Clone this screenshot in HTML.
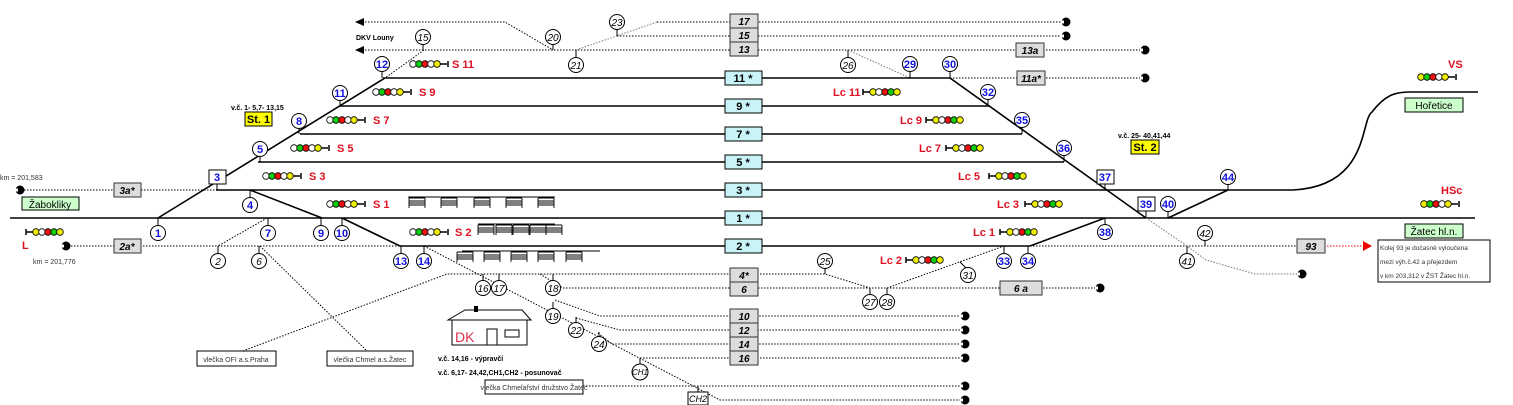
<!DOCTYPE html>
<html><head><meta charset="utf-8"><style>
html,body{margin:0;padding:0;background:#fff;width:1513px;height:405px;overflow:hidden}
svg{display:block;font-family:"Liberation Sans",sans-serif}
.t{stroke:#000;stroke-width:1.6;fill:none}
.d{stroke:#000;stroke-width:1;stroke-dasharray:1.5 1.5;fill:none}
.g{stroke:#777;stroke-width:1;stroke-dasharray:1.5 1.5;fill:none}
.cb{fill:#fff;stroke:#000;stroke-width:1}
.nb{fill:#1010e0;font-size:11px;font-weight:bold;text-anchor:middle}
.nk{fill:#000;font-size:10px;font-style:italic;text-anchor:middle}
.red{fill:#e01020;font-size:11px;font-weight:bold}
.tb{font-size:11px;font-weight:bold;text-anchor:middle}
.gb{fill:#ddd;stroke:#333;stroke-width:1}
.cy{fill:#c8f4f8;stroke:#000;stroke-width:1}
</style></head><body>
<svg width="1513" height="405" viewBox="0 0 1513 405" xmlns="http://www.w3.org/2000/svg">
<defs>
<g id="ec"><circle cx="0" cy="0" r="4.5" fill="#000"/><rect x="-5" y="-1.5" width="3" height="3" fill="#fff"/></g>
<g id="sh"><path d="M0 0h16M0 3h16M0 5h16M0 7h16M0 0v10M16 0v10" stroke="#000" stroke-width="0.9" fill="none"/></g>
</defs>

<!-- dotted tracks top -->
<path class="d" d="M362 22H505L553 50M657 22H1062M617 36H1062M362 50H1140M424 50L385 78M950 78H1140"/>
<path class="g" d="M657 22L576 50M848 50L910 78"/>
<polygon points="355,22 364,18 364,26"/><polygon points="355,50 364,46 364,54"/>
<use href="#ec" x="1066" y="22"/><use href="#ec" x="1066" y="36"/><use href="#ec" x="1145" y="50"/><use href="#ec" x="1145" y="78"/>

<!-- solid tracks -->
<path class="t" d="M383 78H950M340 106H990M300 134H1022M258 162H1064M216 190H1293M10 218H1475M400 246H1030"/>
<path class="t" d="M158 218L385 78M250 190L322 218M342 218L400 246M950 78L1146 218M1168 218L1228 190M1105 218L1030 246"/>
<path class="t" d="M1293 190C1370 186 1360 120 1372 112C1385 95 1395 92 1410 92H1478"/>
<!-- dotted lower -->
<path class="d" d="M15 190H216M65 246H400M1030 246H1297M1326 246"/>
<path class="g" d="M1146 218L1187 246L1206 260L1255 274H1298"/>
<path class="d" d="M267 218L218 246M260 246L368 352M240 352L447 274H730M760 274H825L870 288M563 288H1098M540 274L563 288M887 288L1004 246"/>
<path d="M1327 246H1365" stroke="#e00" stroke-width="1" stroke-dasharray="1.5 1.5"/>
<polygon points="1372,246 1363,241 1363,251" fill="#e00"/>
<use href="#ec" x="20" y="190"/><use href="#ec" x="66" y="246"/><use href="#ec" x="1302" y="274"/><use href="#ec" x="1100" y="288"/>
<path class="d" d="M424 246L720 400H965M555 300L600 316H962M576 318L620 330H962M598 333L612 344H962M640 358H962M583 386H962"/>
<use href="#ec" x="965" y="316"/><use href="#ec" x="965" y="330"/><use href="#ec" x="965" y="344"/><use href="#ec" x="965" y="358"/><use href="#ec" x="965" y="386"/><use href="#ec" x="965" y="400"/>

<!-- platforms -->
<path d="M408 197H555M478 224H555M462 251H600" stroke="#000" stroke-width="1"/>
<use href="#sh" x="409" y="198"/><use href="#sh" x="441" y="198"/><use href="#sh" x="474" y="198"/><use href="#sh" x="506" y="198"/><use href="#sh" x="538" y="198"/>
<use href="#sh" x="478" y="225"/><use href="#sh" x="496" y="225"/><use href="#sh" x="513" y="225"/><use href="#sh" x="530" y="225"/><use href="#sh" x="546" y="225"/>
<use href="#sh" x="457" y="252"/><use href="#sh" x="484" y="252"/><use href="#sh" x="511" y="252"/><use href="#sh" x="538" y="252"/><use href="#sh" x="566" y="252"/>

<!-- center boxes -->
<g class="gb"><rect x="730" y="14" width="28" height="14"/><rect x="730" y="28" width="28" height="14"/><rect x="730" y="42" width="28" height="14"/>
<rect x="730" y="268" width="28" height="14"/><rect x="730" y="282" width="28" height="14"/>
<rect x="730" y="309" width="28" height="14"/><rect x="730" y="323" width="28" height="14"/><rect x="730" y="337" width="28" height="14"/><rect x="730" y="351" width="28" height="14"/>
<rect x="1016" y="43" width="28" height="14"/><rect x="1017" y="71" width="28" height="14"/><rect x="114" y="183" width="27" height="14"/><rect x="114" y="239" width="27" height="14"/><rect x="1000" y="281" width="42" height="14"/><rect x="1297" y="239" width="28" height="14"/></g>
<g font-size="10" font-weight="bold" font-style="italic" text-anchor="middle">
<text x="744" y="25">17</text><text x="744" y="39">15</text><text x="744" y="53">13</text>
<text x="744" y="279">4*</text><text x="744" y="293">6</text>
<text x="744" y="320">10</text><text x="744" y="334">12</text><text x="744" y="348">14</text><text x="744" y="362">16</text>
<text x="1030" y="54">13a</text><text x="1031" y="82">11a*</text><text x="127" y="194">3a*</text><text x="127" y="250">2a*</text><text x="1021" y="292">6 a</text><text x="1311" y="250">93</text></g>
<g class="cy"><rect x="725" y="71" width="37" height="14"/><rect x="725" y="99" width="37" height="14"/><rect x="725" y="127" width="37" height="14"/><rect x="725" y="155" width="37" height="14"/><rect x="725" y="183" width="37" height="14"/><rect x="725" y="211" width="37" height="14"/><rect x="725" y="239" width="37" height="14"/></g>
<g class="tb"><text x="743" y="82">11 *</text><text x="743" y="110">9 *</text><text x="743" y="138">7 *</text><text x="743" y="166">5 *</text><text x="743" y="194">3 *</text><text x="743" y="222">1 *</text><text x="743" y="250">2 *</text></g>

<!-- stems -->
<path stroke="#000" stroke-width="1" d="M158 226V218M217 184V190M250 198V190M260 156V162M299 128V134M340 100V106M382 71V78M268 226V218M321 226V218M342 226V218M401 254V246M424 254V246M910 71V78M950 71V78M988 99V106M1022 127V134M1064 155V162M1105 184V190M1228 184V190M1146 211V218M1168 211V218M1105 225V218M1004 254V246M1028 254V246M423 44V50M553 44V50M617 29V36M576 58V50M848 58V50M218 254V246M259 254V246M483 281V274M499 281V274M553 281V274M553 309V302M576 323V317M599 337V332M640 365V358M698 392V386M825 268V274M870 295V288M887 295V288M1187 254V246M1205 240V246M966 268L960 262"/>

<!-- blue circles -->
<g class="cb">
<circle cx="158" cy="233" r="7.5"/><circle cx="250" cy="205" r="7.5"/><circle cx="260" cy="149" r="7.5"/><circle cx="299" cy="121" r="7.5"/><circle cx="340" cy="93" r="7.5"/><circle cx="382" cy="64" r="7.5"/><circle cx="268" cy="233" r="7.5"/><circle cx="321" cy="233" r="7.5"/><circle cx="342" cy="233" r="7.5"/><circle cx="401" cy="261" r="7.5"/><circle cx="424" cy="261" r="7.5"/><circle cx="910" cy="64" r="7.5"/><circle cx="950" cy="64" r="7.5"/><circle cx="988" cy="92" r="7.5"/><circle cx="1022" cy="120" r="7.5"/><circle cx="1064" cy="148" r="7.5"/><circle cx="1228" cy="177" r="7.5"/><circle cx="1168" cy="204" r="7.5"/><circle cx="1105" cy="232" r="7.5"/><circle cx="1004" cy="261" r="7.5"/><circle cx="1028" cy="261" r="7.5"/>
<rect x="209" y="170" width="17" height="14"/><rect x="1097" y="170" width="17" height="14"/><rect x="1138" y="197" width="17" height="14"/>
<circle cx="423" cy="37" r="7.5"/><circle cx="553" cy="37" r="7.5"/><circle cx="617" cy="22" r="7.5"/><circle cx="576" cy="65" r="7.5"/><circle cx="848" cy="65" r="7.5"/><circle cx="218" cy="261" r="7.5"/><circle cx="259" cy="261" r="7.5"/><circle cx="483" cy="288" r="7.5"/><circle cx="499" cy="288" r="7.5"/><circle cx="553" cy="288" r="7.5"/><circle cx="553" cy="316" r="7.5"/><circle cx="576" cy="330" r="7.5"/><circle cx="599" cy="344" r="7.5"/><circle cx="640" cy="372" r="8"/><rect x="688" y="392" width="20" height="13"/><circle cx="825" cy="261" r="7.5"/><circle cx="870" cy="302" r="7.5"/><circle cx="887" cy="302" r="7.5"/><circle cx="968" cy="275" r="7.5"/><circle cx="1187" cy="261" r="7.5"/><circle cx="1205" cy="233" r="7.5"/>
</g>
<g class="nb">
<text x="158" y="237">1</text><text x="217" y="181">3</text><text x="250" y="209">4</text><text x="260" y="153">5</text><text x="299" y="125">8</text><text x="340" y="97">11</text><text x="382" y="68">12</text><text x="268" y="237">7</text><text x="321" y="237">9</text><text x="342" y="237">10</text><text x="401" y="265">13</text><text x="424" y="265">14</text><text x="910" y="68">29</text><text x="950" y="68">30</text><text x="988" y="96">32</text><text x="1022" y="124">35</text><text x="1064" y="152">36</text><text x="1105" y="181">37</text><text x="1228" y="181">44</text><text x="1146" y="208">39</text><text x="1168" y="208">40</text><text x="1105" y="236">38</text><text x="1004" y="265">33</text><text x="1028" y="265">34</text></g>
<g class="nk">
<text x="423" y="41">15</text><text x="553" y="41">20</text><text x="617" y="26">23</text><text x="576" y="69">21</text><text x="848" y="69">26</text><text x="218" y="265">2</text><text x="259" y="265">6</text><text x="483" y="292">16</text><text x="499" y="292">17</text><text x="553" y="292">18</text><text x="553" y="320">19</text><text x="576" y="334">22</text><text x="599" y="348">24</text><text x="640" y="375" font-size="8">CH1</text><text x="698" y="402" font-size="9">CH2</text><text x="825" y="265">25</text><text x="870" y="306">27</text><text x="887" y="306">28</text><text x="968" y="279">31</text><text x="1187" y="265">41</text><text x="1205" y="237">42</text></g>

<!-- signals: left-facing (S) -->
<g stroke="#000" stroke-width="0.8">
<g transform="translate(413,64)"><circle cx="0" r="3.3" fill="#fff"/><circle cx="6" r="3.3" fill="#1c1"/><circle cx="12" r="3.3" fill="#e11"/><circle cx="18" r="3.3" fill="#fff"/><circle cx="24" r="3.3" fill="#ee0"/><path d="M27 0h7M35 -3v6" stroke-width="1.5"/></g>
<g transform="translate(376,92)"><circle cx="0" r="3.3" fill="#fff"/><circle cx="6" r="3.3" fill="#1c1"/><circle cx="12" r="3.3" fill="#e11"/><circle cx="18" r="3.3" fill="#fff"/><circle cx="24" r="3.3" fill="#ee0"/><path d="M27 0h7M35 -3v6" stroke-width="1.5"/></g>
<g transform="translate(330,120)"><circle cx="0" r="3.3" fill="#fff"/><circle cx="6" r="3.3" fill="#1c1"/><circle cx="12" r="3.3" fill="#e11"/><circle cx="18" r="3.3" fill="#fff"/><circle cx="24" r="3.3" fill="#ee0"/><path d="M27 0h7M35 -3v6" stroke-width="1.5"/></g>
<g transform="translate(294,148)"><circle cx="0" r="3.3" fill="#fff"/><circle cx="6" r="3.3" fill="#1c1"/><circle cx="12" r="3.3" fill="#e11"/><circle cx="18" r="3.3" fill="#fff"/><circle cx="24" r="3.3" fill="#ee0"/><path d="M27 0h7M35 -3v6" stroke-width="1.5"/></g>
<g transform="translate(266,176)"><circle cx="0" r="3.3" fill="#fff"/><circle cx="6" r="3.3" fill="#1c1"/><circle cx="12" r="3.3" fill="#e11"/><circle cx="18" r="3.3" fill="#fff"/><circle cx="24" r="3.3" fill="#ee0"/><path d="M27 0h7M35 -3v6" stroke-width="1.5"/></g>
<g transform="translate(330,204)"><circle cx="0" r="3.3" fill="#fff"/><circle cx="6" r="3.3" fill="#1c1"/><circle cx="12" r="3.3" fill="#e11"/><circle cx="18" r="3.3" fill="#fff"/><circle cx="24" r="3.3" fill="#ee0"/><path d="M27 0h7M35 -3v6" stroke-width="1.5"/></g>
<g transform="translate(413,232)"><circle cx="0" r="3.3" fill="#fff"/><circle cx="6" r="3.3" fill="#1c1"/><circle cx="12" r="3.3" fill="#e11"/><circle cx="18" r="3.3" fill="#fff"/><circle cx="24" r="3.3" fill="#ee0"/><path d="M27 0h7M35 -3v6" stroke-width="1.5"/></g>
<g transform="translate(1421,77)"><circle cx="0" r="3.3" fill="#ee0"/><circle cx="6" r="3.3" fill="#1c1"/><circle cx="12" r="3.3" fill="#e11"/><circle cx="18" r="3.3" fill="#fff"/><circle cx="24" r="3.3" fill="#ee0"/><path d="M27 0h7M35 -3v6" stroke-width="1.5"/></g>
<g transform="translate(1424,204)"><circle cx="0" r="3.3" fill="#ee0"/><circle cx="6" r="3.3" fill="#1c1"/><circle cx="12" r="3.3" fill="#e11"/><circle cx="18" r="3.3" fill="#fff"/><circle cx="24" r="3.3" fill="#ee0"/><path d="M27 0h7M35 -3v6" stroke-width="1.5"/></g>
<!-- right-facing (L / Lc) -->
<g transform="translate(26,232)"><path d="M0 -3v6M0 0h7" stroke-width="1.5"/><circle cx="10" r="3.3" fill="#ee0"/><circle cx="16" r="3.3" fill="#fff"/><circle cx="22" r="3.3" fill="#e11"/><circle cx="28" r="3.3" fill="#1c1"/><circle cx="34" r="3.3" fill="#ee0"/></g>
<g transform="translate(863,92)"><path d="M0 -3v6M0 0h7" stroke-width="1.5"/><circle cx="10" r="3.3" fill="#ee0"/><circle cx="16" r="3.3" fill="#fff"/><circle cx="22" r="3.3" fill="#e11"/><circle cx="28" r="3.3" fill="#1c1"/><circle cx="34" r="3.3" fill="#ee0"/></g>
<g transform="translate(926,120)"><path d="M0 -3v6M0 0h7" stroke-width="1.5"/><circle cx="10" r="3.3" fill="#ee0"/><circle cx="16" r="3.3" fill="#fff"/><circle cx="22" r="3.3" fill="#e11"/><circle cx="28" r="3.3" fill="#1c1"/><circle cx="34" r="3.3" fill="#ee0"/></g>
<g transform="translate(946,148)"><path d="M0 -3v6M0 0h7" stroke-width="1.5"/><circle cx="10" r="3.3" fill="#ee0"/><circle cx="16" r="3.3" fill="#fff"/><circle cx="22" r="3.3" fill="#e11"/><circle cx="28" r="3.3" fill="#1c1"/><circle cx="34" r="3.3" fill="#ee0"/></g>
<g transform="translate(989,176)"><path d="M0 -3v6M0 0h7" stroke-width="1.5"/><circle cx="10" r="3.3" fill="#ee0"/><circle cx="16" r="3.3" fill="#fff"/><circle cx="22" r="3.3" fill="#e11"/><circle cx="28" r="3.3" fill="#1c1"/><circle cx="34" r="3.3" fill="#ee0"/></g>
<g transform="translate(1025,204)"><path d="M0 -3v6M0 0h7" stroke-width="1.5"/><circle cx="10" r="3.3" fill="#ee0"/><circle cx="16" r="3.3" fill="#fff"/><circle cx="22" r="3.3" fill="#e11"/><circle cx="28" r="3.3" fill="#1c1"/><circle cx="34" r="3.3" fill="#ee0"/></g>
<g transform="translate(1000,232)"><path d="M0 -3v6M0 0h7" stroke-width="1.5"/><circle cx="10" r="3.3" fill="#ee0"/><circle cx="16" r="3.3" fill="#fff"/><circle cx="22" r="3.3" fill="#e11"/><circle cx="28" r="3.3" fill="#1c1"/><circle cx="34" r="3.3" fill="#ee0"/></g>
<g transform="translate(906,260)"><path d="M0 -3v6M0 0h7" stroke-width="1.5"/><circle cx="10" r="3.3" fill="#ee0"/><circle cx="16" r="3.3" fill="#fff"/><circle cx="22" r="3.3" fill="#e11"/><circle cx="28" r="3.3" fill="#1c1"/><circle cx="34" r="3.3" fill="#ee0"/></g>
</g>
<g class="red">
<text x="452" y="68">S 11</text><text x="419" y="96">S 9</text><text x="373" y="124">S 7</text><text x="337" y="152">S 5</text><text x="309" y="180">S 3</text><text x="373" y="208">S 1</text><text x="455" y="236">S 2</text>
<text x="22" y="249">L</text><text x="833" y="96">Lc 11</text><text x="900" y="124">Lc 9</text><text x="919" y="152">Lc 7</text><text x="958" y="180">Lc 5</text><text x="997" y="208">Lc 3</text><text x="973" y="236">Lc 1</text><text x="880" y="264">Lc 2</text>
<text x="1448" y="68">VS</text><text x="1441" y="194">HSc</text></g>

<!-- labels -->
<text x="356" y="40" font-size="7" font-weight="bold">DKV Louny</text>
<text x="231" y="110" font-size="7" font-weight="bold">v.č. 1- 5,7- 13,15</text>
<rect x="245" y="112" width="27" height="14" fill="#ff0" stroke="#000"/><text x="258.5" y="123" class="tb" font-size="10">St. 1</text>
<text x="1118" y="138" font-size="7" font-weight="bold">v.č. 25- 40,41,44</text>
<rect x="1131" y="140" width="28" height="14" fill="#ff0" stroke="#000"/><text x="1145" y="151" class="tb" font-size="10">St. 2</text>
<text x="0" y="180" font-size="7" fill="#333">km = 201,583</text>
<text x="33" y="264" font-size="7" fill="#333">km = 201,776</text>
<rect x="22" y="197" width="57" height="13" fill="#cfc" stroke="#000"/><text x="50" y="208" font-size="10" text-anchor="middle">Žabokliky</text>
<rect x="1405" y="98" width="58" height="14" fill="#cfc" stroke="#000"/><text x="1434" y="109" font-size="10" text-anchor="middle">Hořetice</text>
<rect x="1405" y="224" width="58" height="14" fill="#cfc" stroke="#000"/><text x="1434" y="235" font-size="10" text-anchor="middle">Žatec hl.n.</text>
<rect x="1378" y="240" width="112" height="42" fill="#fff" stroke="#000"/>
<g font-size="6.5" fill="#333"><text x="1380" y="250">Kolej 93 je dočasně vyloučena</text><text x="1380" y="264">mezi výh.č.42 a přejezdem</text><text x="1380" y="278">v km 203,312 v ŽST Žatec hl.n.</text></g>
<rect x="197" y="351" width="79" height="15" fill="#fff" stroke="#000"/><text x="236" y="362" font-size="7" text-anchor="middle" fill="#333">vlečka OFI a.s.Praha</text>
<rect x="327" y="351" width="86" height="15" fill="#fff" stroke="#000"/><text x="370" y="362" font-size="7" text-anchor="middle" fill="#333">vlečka Chmel a.s.Žatec</text>
<rect x="485" y="380" width="98" height="14" fill="#fff" stroke="#000"/><text x="534" y="390" font-size="7" text-anchor="middle" fill="#333">vlečka Chmelařství družstvo Žatec</text>
<!-- DK building -->
<path d="M452 320V345H527V320M448 320L465 310H522L531 320Z" fill="none" stroke="#000" stroke-width="1"/>
<rect x="474" y="306" width="4" height="6" fill="#000"/>
<rect x="487" y="329" width="10" height="16" fill="none" stroke="#000"/><rect x="505" y="330" width="14" height="7" fill="none" stroke="#000"/>
<text x="455" y="342" font-size="14" fill="#e0304a">DK</text>
<text x="438" y="361" font-size="7" font-weight="bold">v.č. 14,16 - výpravčí</text>
<text x="438" y="375" font-size="7" font-weight="bold">v.č. 6,17- 24,42,CH1,CH2 - posunovač</text>
</svg>
</body></html>
